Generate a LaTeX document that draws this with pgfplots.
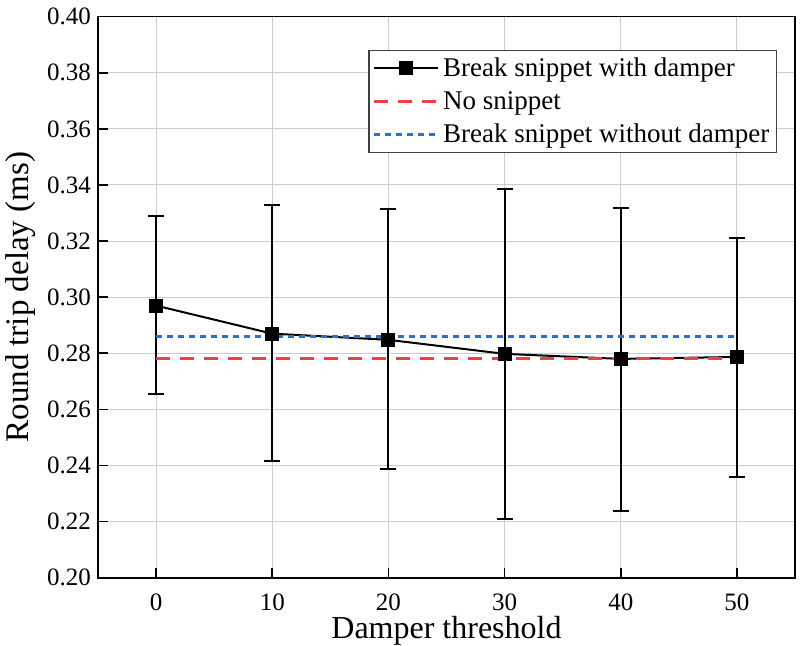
\documentclass[border=0pt]{standalone}
\usepackage{fontspec}
\setmainfont{Liberation Serif}
\usepackage{pgfplots}
\usepackage{pgfplotstable}
\pgfplotsset{compat=1.18}
\definecolor{myred}{RGB}{238,64,64}
\definecolor{myblue}{RGB}{40,112,214}
\pgfplotstableread{
x y ep em
0  0.2970 0.0319 0.0316
10 0.2870 0.0457 0.0453
20 0.2848 0.0465 0.0459
30 0.2798 0.0588 0.0589
40 0.2780 0.0539 0.0541
50 0.2787 0.0425 0.0428
}\maindata
\pgfplotstableread{
x y
0 0.278
50 0.278
}\nosnip
\pgfplotstableread{
x y
0 0.286
50 0.286
}\nodamp
\begin{document}
\begin{tikzpicture}
\begin{axis}[
  name=ax,
  scale only axis,
  width=348.5pt, height=280.5pt,
  xmin=-5, xmax=55, ymin=0.20, ymax=0.40,
  xtick={0,10,20,30,40,50},
  ytick={0.20,0.22,...,0.40},
  xticklabel={\pgfmathprintnumber[assume math mode=true]{\tick}},
  yticklabel={\pgfmathprintnumber[assume math mode=true,fixed,fixed zerofill,precision=2]{\tick}},
  tick label style={font=\fontsize{12.5}{14}\selectfont},
  xticklabel style={yshift=-8pt, inner sep=0pt},
  tick align=inside,
  major tick length=5pt,
  tick style={black, line width=0.8pt},
  xtick pos=bottom, ytick pos=left,
  axis line style={black, line width=0.8pt},
  grid=major,
  major grid style={gray!40, line width=0.5pt},
  xlabel={Damper threshold},
  ylabel={Round trip delay (ms)},
  xlabel style={font=\fontsize{16}{19}\selectfont, at={(axis description cs:0.5,0)}, anchor=base, yshift=-30.3pt, inner sep=0pt},
  ylabel style={font=\fontsize{16.5}{19}\selectfont, yshift=-1pt},
  legend cell align=left,
  legend style={at={(0.974,0.941)}, anchor=north east, draw=black!75, line width=0.6pt,
     font=\fontsize{13.5}{16}\selectfont, inner sep=1.5pt, row sep=2pt},
  legend image code/.code={\draw[mark repeat=2,mark phase=2,#1] plot coordinates {(0pt,0pt) (16pt,0pt) (32pt,0pt)};},
]
\addplot[black, line width=1pt, mark=square*, mark size=3pt,
  error bars/.cd, y dir=both, y explicit,
  error bar style={black, line width=1pt}, error mark options={rotate=90, mark size=4pt, line width=1pt}]
  table[x=x, y=y, y error plus=ep, y error minus=em] {\maindata};
\addlegendentry{Break snippet with damper}
\addplot[myred, line width=1.5pt, dash pattern=on 7pt off 5pt] table[x=x,y=y] {\nosnip};
\addlegendentry{No snippet}
\addplot[myblue, line width=1.5pt, dash pattern=on 3pt off 2.5pt] table[x=x,y=y] {\nodamp};
\addlegendentry{Break snippet without damper}
\end{axis}
\pgfresetboundingbox
\path[use as bounding box] ([xshift=-49pt,yshift=-34pt]ax.south west) rectangle ([xshift=2.5pt,yshift=8.35pt]ax.north east);
\end{tikzpicture}
\end{document}
